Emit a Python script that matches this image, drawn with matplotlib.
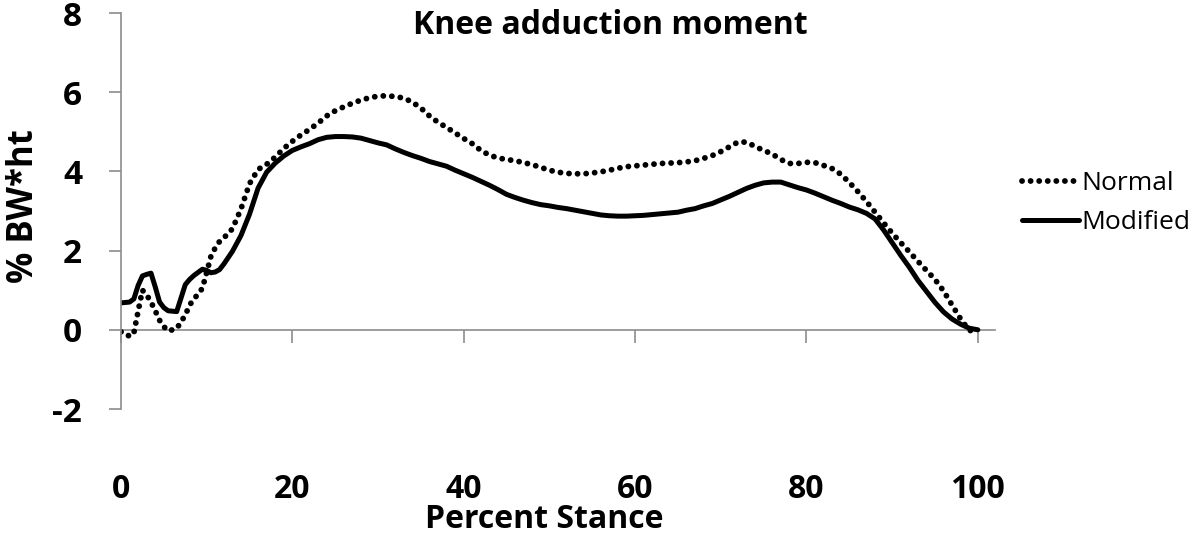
import matplotlib
matplotlib.use('Agg')
import matplotlib.pyplot as plt

# percent stance (finer sampling over the early-stance spikes)
stance = [0, 0.5, 1, 1.5, 2, 2.5, 3, 3.5, 4, 4.5, 5, 5.5, 6, 6.5, 7, 7.5,
          8, 8.5, 9, 9.5, 10, 10.5, 11, 11.5, 12] + list(range(13, 101))

normal = [-0.05, -0.08, -0.17, -0.08, 0.47, 1.00, 0.88, 0.70, 0.48, 0.24,
          0.08, -0.03, 0.00, 0.03, 0.20, 0.37, 0.62, 0.78, 0.90, 1.05,
          1.45, 1.86, 2.07, 2.23, 2.32,
          2.55, 3.05, 3.69, 4.05, 4.18, 4.36, 4.58, 4.76,                  # 13-20
          4.92, 5.06, 5.22, 5.40, 5.53, 5.63, 5.72, 5.80, 5.86, 5.90,      # 21-30
          5.91, 5.89, 5.85, 5.75, 5.60, 5.40, 5.24, 5.11, 4.97, 4.83,      # 31-40
          4.70, 4.53, 4.41, 4.34, 4.30, 4.27, 4.22, 4.17, 4.10, 4.03,      # 41-50
          3.98, 3.95, 3.94, 3.94, 3.96, 3.99, 4.03, 4.08, 4.12, 4.14,      # 51-60
          4.16, 4.18, 4.20, 4.21, 4.22, 4.24, 4.27, 4.33, 4.40, 4.50,      # 61-70
          4.62, 4.74, 4.74, 4.63, 4.53, 4.44, 4.30, 4.20, 4.20, 4.23,      # 71-80
          4.22, 4.15, 4.07, 3.93, 3.72, 3.49, 3.24, 2.97, 2.70, 2.44,      # 81-90
          2.20, 1.97, 1.73, 1.50, 1.27, 0.98, 0.62, 0.27, -0.02, 0.00]     # 91-100

modified = [0.68, 0.69, 0.70, 0.78, 1.12, 1.36, 1.40, 1.43, 1.08, 0.70,
            0.56, 0.48, 0.47, 0.46, 0.80, 1.14, 1.27, 1.37, 1.45, 1.53,
            1.50, 1.44, 1.46, 1.52, 1.66,
            1.98, 2.38, 2.92, 3.58, 3.98, 4.21, 4.39, 4.53,                # 13-20
            4.62, 4.70, 4.80, 4.86, 4.88, 4.88, 4.87, 4.84, 4.78, 4.72,    # 21-30
            4.67, 4.57, 4.48, 4.40, 4.33, 4.25, 4.19, 4.13, 4.03, 3.94,    # 31-40
            3.85, 3.75, 3.65, 3.54, 3.42, 3.34, 3.27, 3.21, 3.16, 3.13,    # 41-50
            3.09, 3.06, 3.02, 2.98, 2.94, 2.90, 2.88, 2.87, 2.87, 2.88,    # 51-60
            2.89, 2.91, 2.93, 2.95, 2.97, 3.02, 3.06, 3.13, 3.19, 3.28,    # 61-70
            3.37, 3.47, 3.57, 3.65, 3.71, 3.73, 3.73, 3.66, 3.59, 3.53,    # 71-80
            3.45, 3.36, 3.27, 3.19, 3.10, 3.03, 2.94, 2.80, 2.52, 2.20,    # 81-90
            1.88, 1.58, 1.25, 0.97, 0.69, 0.45, 0.27, 0.14, 0.04, 0.00]    # 91-100

x_ticks = [0, 20, 40, 60, 80, 100]
y_ticks = [-2, 0, 2, 4, 6, 8]

plt.rcParams['font.family'] = ['Open Sans', 'DejaVu Sans']
plt.rcParams['axes.unicode_minus'] = False
axis_grey = '#8c8c8c'

fig = plt.figure(figsize=(12, 5.34), dpi=100)
ax = fig.add_axes([121 / 1200, 1 - 409 / 534, (995 - 121) / 1200, (409 - 13) / 534])

ax.plot(stance, normal, color='black', lw=4.2,
        linestyle=(0, (0.01, 1.46)), dash_capstyle='round', label='Normal')
ax.plot(stance, modified, color='black', lw=3.6, solid_capstyle='round', label='Modified')

ax.set_xlim(0, 102)
ax.set_ylim(-2, 8)

# left axis
for side in ['top', 'right', 'bottom']:
    ax.spines[side].set_visible(False)
ax.spines['left'].set_color(axis_grey)
ax.spines['left'].set_linewidth(1.2)
ax.set_yticks(y_ticks)
ax.tick_params(axis='y', direction='out', length=9, width=1.2, color=axis_grey,
               pad=19, labelsize=24)
for lbl in ax.get_yticklabels():
    lbl.set_fontweight('bold')

# x tick labels sit low, the axis line itself crosses at y = 0
ax.set_xticks(x_ticks)
ax.tick_params(axis='x', length=0, pad=46, labelsize=23)
for lbl in ax.get_xticklabels():
    lbl.set_fontweight('bold')

zero_axis = ax.secondary_xaxis(0.2)
zero_axis.set_xticks(x_ticks)
zero_axis.set_xticklabels([])
zero_axis.spines['bottom'].set_color(axis_grey)
zero_axis.spines['bottom'].set_linewidth(1.2)
zero_axis.tick_params(direction='out', length=9, width=1.2, color=axis_grey)

fig.text(610 / 1200, 1 - 26 / 534, 'Knee adduction moment', ha='center', va='center',
         fontsize=23, fontweight='bold')
fig.text(544 / 1200, 1 - 519 / 534, 'Percent Stance', ha='center', va='center',
         fontsize=23, fontweight='bold')
fig.text(24 / 1200, 1 - 206 / 534, '% BW*ht', ha='center', va='center', rotation=90,
         fontsize=25, fontweight='bold')

ax.legend(loc='center left', bbox_to_anchor=(1022 / 1200, 1 - 203 / 534),
          bbox_transform=fig.transFigure, frameon=False, fontsize=19,
          handlelength=2.15, handletextpad=0.1, labelspacing=0.55,
          borderpad=0, borderaxespad=0)

fig.savefig('out.png', dpi=100, facecolor='white')
